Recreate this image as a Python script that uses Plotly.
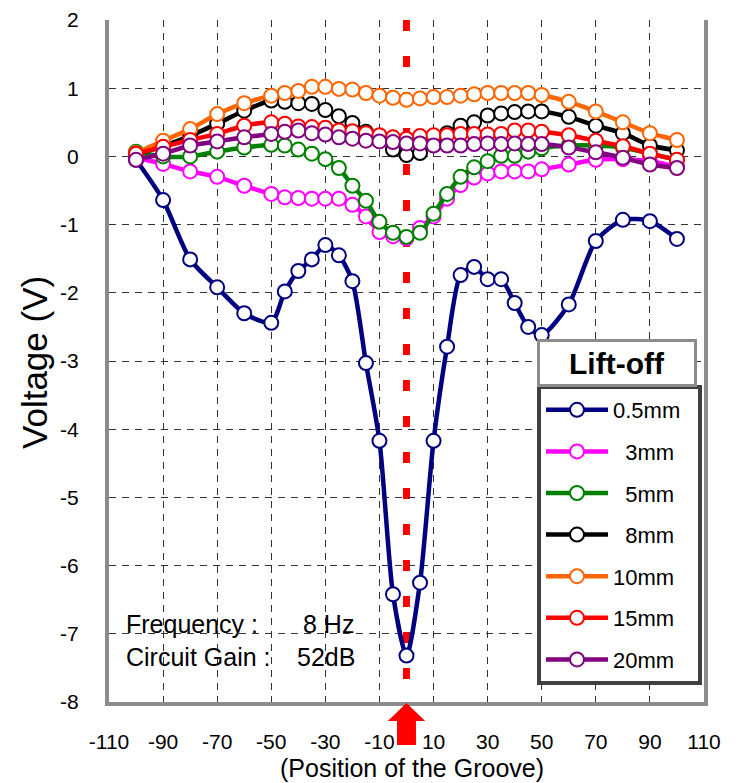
import plotly.graph_objects as go

# ---------------- data ----------------
X_POS = [-100, -90, -80, -70, -60, -50, -45, -40, -35, -30, -25, -20, -15, -10, -5,
         0, 5, 10, 15, 20, 25, 30, 35, 40, 45, 50, 60, 70, 80, 90, 100]

V_05MM = [-0.05, -0.64, -1.51, -1.92, -2.30, -2.44, -1.98, -1.68, -1.51, -1.30, -1.45, -1.83,
          -3.03, -4.17, -6.42, -7.32, -6.25, -4.17, -2.79, -1.74, -1.62, -1.80, -1.80, -2.15,
          -2.50, -2.62, -2.17, -1.24, -0.93, -0.95, -1.21]
V_3MM = [-0.02, -0.11, -0.22, -0.30, -0.43, -0.55, -0.60, -0.61, -0.62, -0.62, -0.62, -0.71,
         -0.88, -1.11, -1.17, -1.20, -1.05, -0.88, -0.62, -0.42, -0.31, -0.25, -0.22, -0.22,
         -0.22, -0.19, -0.12, -0.05, -0.04, -0.07, -0.15]
V_5MM = [0.07, 0.00, 0.00, 0.07, 0.13, 0.17, 0.16, 0.10, 0.04, -0.04, -0.17, -0.43,
         -0.65, -0.96, -1.12, -1.18, -1.12, -0.84, -0.55, -0.30, -0.16, -0.07, 0.01, 0.01,
         0.07, 0.12, 0.16, 0.16, 0.13, 0.04, -0.05]
V_8MM = [0.03, 0.15, 0.30, 0.48, 0.67, 0.82, 0.80, 0.78, 0.77, 0.68, 0.59, 0.49,
         0.36, 0.28, 0.10, 0.02, 0.05, 0.25, 0.34, 0.45, 0.50, 0.60, 0.63, 0.65,
         0.66, 0.66, 0.58, 0.45, 0.34, 0.16, 0.09]
V_10MM = [0.05, 0.23, 0.40, 0.62, 0.78, 0.89, 0.93, 0.96, 1.02, 1.02, 0.99, 0.98,
          0.93, 0.89, 0.86, 0.83, 0.85, 0.87, 0.87, 0.89, 0.91, 0.93, 0.93, 0.93,
          0.93, 0.90, 0.80, 0.66, 0.50, 0.34, 0.24]
V_15MM = [0.04, 0.14, 0.24, 0.33, 0.45, 0.50, 0.48, 0.44, 0.43, 0.42, 0.38, 0.37,
          0.34, 0.31, 0.28, 0.26, 0.30, 0.31, 0.31, 0.33, 0.33, 0.32, 0.33, 0.38,
          0.38, 0.36, 0.31, 0.23, 0.15, 0.04, -0.05]
V_20MM = [-0.05, 0.04, 0.16, 0.22, 0.28, 0.33, 0.36, 0.38, 0.34, 0.32, 0.28, 0.26,
          0.23, 0.22, 0.21, 0.19, 0.19, 0.16, 0.16, 0.16, 0.18, 0.19, 0.18, 0.19,
          0.18, 0.18, 0.13, 0.06, -0.02, -0.12, -0.17]

SERIES = [V_05MM, V_3MM, V_5MM, V_8MM, V_10MM, V_15MM, V_20MM]
SERIES_NAMES = ["0.5mm", "3mm", "5mm", "8mm", "10mm", "15mm", "20mm"]
COLORS = ["#000080", "#FF00FF", "#008000", "#000000", "#FF6600", "#FF0000", "#800080"]

X_TICKS = list(range(-110, 111, 20))
Y_TICKS = list(range(-8, 3))
GROOVE_POS = 0
LEGEND_TITLE = "Lift-off"
FREQ_TEXT = ("Frequency :", "8 Hz")
GAIN_TEXT = ("Circuit Gain :", "52dB")

# ---------------- layout helpers (pixel -> paper) ----------------
W, H = 752, 783
L, R, T, B = 109, 48, 20, 81
PW, PH = W - L - R, H - T - B


def pxx(x):
    return (x - L) / PW


def pxy(y):
    return (H - B - y) / PH


FONT = "Liberation Sans, Arial, sans-serif"

fig = go.Figure()

for name, vals, col in zip(SERIES_NAMES, SERIES, COLORS):
    pad = "\u00a0\u00a0" if len(name) == 3 else ""
    fig.add_trace(go.Scatter(
        x=X_POS, y=vals, name=pad + name + "\u00a0\u00a0", legendgroup=name,
        mode="lines+markers",
        line=dict(color=col, width=4.5, shape="spline", smoothing=0.7),
        marker=dict(symbol="circle", size=14, color="white", line=dict(color=col, width=2)),
    ))

# groove marker: dashed red line and arrow
fig.add_shape(type="line", xref="x", yref="paper", x0=GROOVE_POS, x1=GROOVE_POS, y0=1, y1=0,
              line=dict(color="#FF0000", width=7, dash="11px,25px"), layer="between")
yt, yh, yb = pxy(703), pxy(721), pxy(745)
hw, sw = 6.9, 3.5
arrow = (f"M{GROOVE_POS - sw},{yb} L{GROOVE_POS - sw},{yh} L{GROOVE_POS - hw},{yh} "
         f"L{GROOVE_POS},{yt} L{GROOVE_POS + hw},{yh} L{GROOVE_POS + sw},{yh} "
         f"L{GROOVE_POS + sw},{yb} Z")
fig.add_shape(type="path", xref="x", yref="paper", path=arrow,
              fillcolor="#FF0000", line=dict(width=0), layer="above")

annotations = [
    dict(text="(Position of the Groove)", x=pxx(412), y=pxy(768), xref="paper", yref="paper",
         showarrow=False, xanchor="center", yanchor="middle",
         font=dict(family=FONT, size=25, color="black")),
    dict(text="Voltage (V)", x=pxx(34), y=pxy(363), xref="paper", yref="paper",
         showarrow=False, xanchor="center", yanchor="middle", textangle=-90,
         font=dict(family=FONT, size=35, color="black")),
    dict(text=FREQ_TEXT[0], x=pxx(124), y=pxy(624), xref="paper", yref="paper",
         showarrow=False, xanchor="left", yanchor="middle",
         font=dict(family=FONT, size=25, color="black")),
    dict(text=FREQ_TEXT[1], x=pxx(301), y=pxy(624), xref="paper", yref="paper",
         showarrow=False, xanchor="left", yanchor="middle",
         font=dict(family=FONT, size=25, color="black")),
    dict(text=GAIN_TEXT[0], x=pxx(124), y=pxy(657), xref="paper", yref="paper",
         showarrow=False, xanchor="left", yanchor="middle",
         font=dict(family=FONT, size=25, color="black")),
    dict(text=GAIN_TEXT[1], x=pxx(295), y=pxy(657), xref="paper", yref="paper",
         showarrow=False, xanchor="left", yanchor="middle",
         font=dict(family=FONT, size=25, color="black")),
    dict(text="<b>" + LEGEND_TITLE + "</b>", x=pxx(617), y=pxy(362.5), xref="paper", yref="paper",
         showarrow=False, xanchor="center", yanchor="middle", width=150, height=38,
         bgcolor="white", bordercolor="#8C8C8C", borderwidth=3, borderpad=2,
         font=dict(family=FONT, size=30, color="black")),
]

fig.update_layout(
    width=W, height=H,
    margin=dict(l=L, r=R, t=T, b=B, pad=0, autoexpand=False),
    paper_bgcolor="white", plot_bgcolor="white",
    showlegend=True,
    legend=dict(x=pxx(537), y=pxy(385), xanchor="left", yanchor="top",
                bgcolor="white", bordercolor="#404040", borderwidth=4,
                font=dict(family=FONT, size=22, color="black"),
                itemwidth=62, tracegroupgap=10, itemclick=False),
    annotations=annotations,
    xaxis=dict(range=[-110, 110], tickvals=X_TICKS, ticktext=[str(v) for v in X_TICKS],
               automargin=False,
               showgrid=True, gridcolor="#333333", gridwidth=1, griddash="7px,6px",
               zeroline=False, showline=True, linecolor="#8C8C8C", linewidth=4, mirror=False,
               ticks="inside", ticklen=5, tickcolor="#333333", tickwidth=1,
               ticklabelstandoff=18,
               tickfont=dict(family=FONT, size=21, color="black")),
    yaxis=dict(range=[-8, 2], tickvals=Y_TICKS, ticktext=[str(v) for v in Y_TICKS],
               automargin=False,
               showgrid=True, gridcolor="#333333", gridwidth=1, griddash="7px,6px",
               zeroline=False, showline=True, linecolor="#8C8C8C", linewidth=4, mirror=True,
               ticks="inside", ticklen=5, tickcolor="#333333", tickwidth=1,
               ticklabelstandoff=22,
               tickfont=dict(family=FONT, size=21, color="black")),
)

fig.write_html("out.html", config={"displayModeBar": False},
               post_script="document.body.style.margin='0';document.body.style.padding='0';")
